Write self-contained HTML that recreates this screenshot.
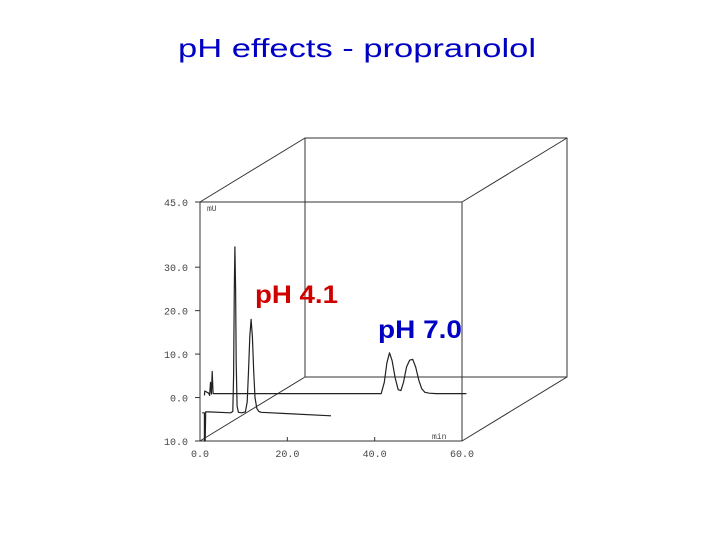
<!DOCTYPE html>
<html><head><meta charset="utf-8"><style>
body{margin:0;background:#fff;width:720px;height:540px;overflow:hidden}
svg{display:block}
</style></head><body>
<svg id="chart" width="720" height="540" viewBox="0 0 720 540" xmlns="http://www.w3.org/2000/svg">
<text x="357" y="57" text-anchor="middle" font-family="Liberation Sans, sans-serif" font-size="26" fill="#0000c4" textLength="358" lengthAdjust="spacingAndGlyphs">pH effects - propranolol</text>
<g id="box" stroke="#333" stroke-width="1" fill="none"></g>
<g id="axes"></g>
<g id="traces"></g>
<text x="255" y="303" font-family="Liberation Sans, sans-serif" font-weight="bold" font-size="25" fill="#d00000" textLength="83" lengthAdjust="spacingAndGlyphs">pH 4.1</text>
<text x="378" y="338" font-family="Liberation Sans, sans-serif" font-weight="bold" font-size="25" fill="#0000c4" textLength="84" lengthAdjust="spacingAndGlyphs">pH 7.0</text>
</svg>
<script>
const xTicks=[0,20,40,60];
const xTickLabels=["0.0","20.0","40.0","60.0"];
const yTicks=[45,30,20,10,0,-10];
const yTickLabels=["45.0","30.0","20.0","10.0","0.0","10.0"];
const ph41Times=[0.5,1,1,1.2,1.3,2,7,7.5,7.7,7.85,8,8.15,8.3,8.5,8.8,9.5,10.4,10.8,11.1,11.4,11.7,12.0,12.3,12.6,13,13.5,14,20,30];
const ph41Values=[-3.5,-3.5,-10,-10,-3.3,-3.3,-3.5,-3.2,5,25,34.7,25,8,-2,-3.4,-3.5,-3.3,-1,6,14,18,14,6,0,-2.5,-3.2,-3.4,-3.7,-4.2];
const ph70Times=[1,1.1,2,2.2,2.4,2.6,2.8,3,10,41.5,42.2,42.8,43.4,44,44.7,45.4,46,46.6,47.3,48,48.7,49.4,50.1,50.8,51.5,52.5,54,61];
const ph70Values=[0.5,1.5,1,0.5,3.5,0.8,6,0.9,0.9,0.9,3.5,8,10.3,8.5,4.5,1.8,1.6,3.5,7,8.6,8.8,7,4,2,1.2,1,0.9,0.9];

const NS="http://www.w3.org/2000/svg";
const X0=200,X1=462,Y0=202,Y1=441,DX=105,DY=-64;
const xs=t=>X0+(t-0)/60*(X1-X0);
const ys=v=>Y1-(v+10)/55*(Y1-Y0);
function mk(tag,attrs,parent){const e=document.createElementNS(NS,tag);for(const k in attrs)e.setAttribute(k,attrs[k]);parent.appendChild(e);return e;}
const box=document.getElementById('box');
const bp=`M${X0},${Y0}H${X1}V${Y1} M${X0+DX},${Y0+DY}H${X1+DX}V${Y1+DY}H${X0+DX}Z M${X0},${Y0}L${X0+DX},${Y0+DY} M${X1},${Y0}L${X1+DX},${Y0+DY} M${X1},${Y1}L${X1+DX},${Y1+DY} M${X0},${Y1}L${X0+DX},${Y1+DY}`;
const bpEl=mk('path',{d:bp},box);


const axes=document.getElementById('axes');
const ax=mk('path',{d:`M${X0},${Y0}V${Y1}H${X1}`,stroke:'#333',fill:'none'},axes);


yTicks.forEach((v,i)=>{
  const y=ys(v);
  const tk=mk('line',{x1:X0-5,x2:X0,y1:y,y2:y,stroke:'#333'},axes);
  
  
  const t=mk('text',{x:X0-12,y:y+4,'text-anchor':'end','font-family':'Liberation Mono, monospace','font-size':'10',fill:'#444'},axes);
  t.textContent=yTickLabels[i];
  
  
});
xTicks.forEach((v,i)=>{
  const x=xs(v);
  const tk=mk('line',{x1:x,x2:x,y1:Y1-4,y2:Y1,stroke:'#333'},axes);
  
  
  const t=mk('text',{x:x,y:Y1+16,'text-anchor':'middle','font-family':'Liberation Mono, monospace','font-size':'10',fill:'#444'},axes);
  t.textContent=xTickLabels[i];
  
  
});
const mu=mk('text',{x:207,y:211,'font-family':'Liberation Mono, monospace','font-size':'8',fill:'#444'},axes);
mu.textContent='mU';


const mn=mk('text',{x:432,y:439,'font-family':'Liberation Mono, monospace','font-size':'8',fill:'#444'},axes);
mn.textContent='min';


const tr=document.getElementById('traces');
function line(ts,vs){return ts.map((t,i)=>(i?'L':'M')+xs(t).toFixed(1)+','+ys(vs[i]).toFixed(1)).join('');}
const a=mk('path',{d:line(ph41Times,ph41Values),stroke:'#222',fill:'none','stroke-width':'1.2','stroke-linejoin':'round'},tr);


const b=mk('path',{d:line(ph70Times,ph70Values),stroke:'#222',fill:'none','stroke-width':'1.2','stroke-linejoin':'round'},tr);


</script>
</body></html>
